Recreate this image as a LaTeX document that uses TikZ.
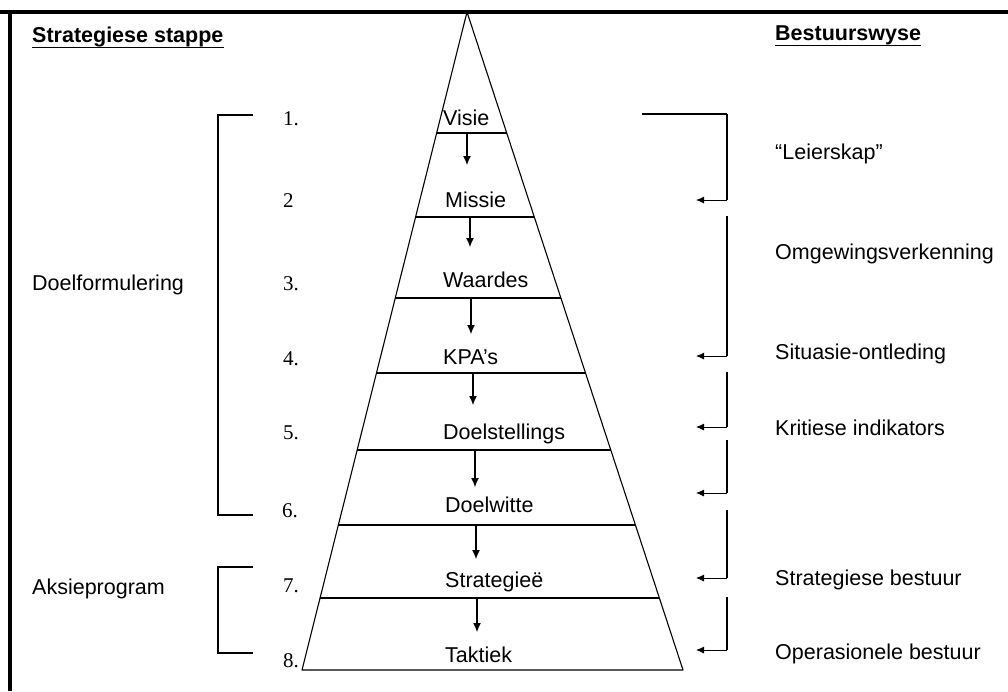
\documentclass[tikz,border=0pt]{standalone}
\usepackage{fontspec}
\setmainfont{Liberation Sans}
\newfontfamily\numfont{Liberation Serif}
\usetikzlibrary{arrows.meta,calc}
\tikzset{
  lbl/.style={anchor=base west, inner sep=0pt, font=\fontsize{21.5}{24}\selectfont},
  hdr/.style={anchor=base west, inner sep=0pt, font=\fontsize{21.5}{24}\selectfont\bfseries},
  num/.style={anchor=base west, inner sep=0pt, font=\fontsize{21}{24}\selectfont\numfont},
  pyr/.style={line width=1.1pt, line join=round},
  level/.style={line width=1.1pt},
  down/.style={line width=1.1pt, -{Latex[length=9pt,width=8pt]}},
  brk/.style={line width=1.8pt},
  back/.style={line width=0.9pt, -{Latex[length=8pt,width=7pt]}},
  frame/.style={line width=3.5pt}
}
\begin{document}
\begin{tikzpicture}[x=1pt,y=-1pt]
\useasboundingbox (0,0) rectangle (1008,691);
% frame
\draw[frame] (0,12) -- (1008,12);
\draw[frame] (10,12) -- (10,691);
% headers
\node[hdr] (h1) at (32,42) {Strategiese stappe};
\node[hdr] (h2) at (775,40) {Bestuurswyse};
\draw[line width=0.8pt] ([yshift=-5pt]h1.base west) -- ([yshift=-5pt]h1.base east);
\draw[line width=0.8pt] ([yshift=-5pt]h2.base west) -- ([yshift=-5pt]h2.base east);
% pyramid
\coordinate (apex) at (467,12);
\coordinate (bl) at (302,670);
\coordinate (br) at (683,670);
\draw[pyr] (bl) -- (apex) -- (br) -- cycle;
\foreach \t/\n in {0.1839/1,0.3116/2,0.4347/3,0.5486/4,0.6657/5,0.7796/6,0.8906/7}{
  \coordinate (L\n) at ($(apex)!\t!(bl)$);
  \coordinate (R\n) at ($(apex)!\t!(br)$);
  \draw[level] (L\n) -- (R\n);
}
% level texts
\node[lbl] (t1) at (443,125) {Visie};
\node[lbl] (t2) at (445,207) {Missie};
\node[lbl] (t3) at (443,287) {Waardes};
\node[lbl] (t4) at (443,364) {KPA's};
\node[lbl] (t5) at (443,439) {Doelstellings};
\node[lbl] (t6) at (445,512) {Doelwitte};
\node[lbl] (t7) at (445,587) {Strategieë};
\node[lbl] (t8) at (445,662) {Taktiek};
% down arrows
\coordinate (a1s) at (467,133); \coordinate (a1e) at (467,165);
\coordinate (a2s) at (470,217); \coordinate (a2e) at (470,247);
\coordinate (a3s) at (471,298); \coordinate (a3e) at (471,334);
\coordinate (a4s) at (473,373); \coordinate (a4e) at (473,405);
\coordinate (a5s) at (475,450); \coordinate (a5e) at (475,487);
\coordinate (a6s) at (476,525); \coordinate (a6e) at (476,559);
\coordinate (a7s) at (477,598); \coordinate (a7e) at (477,632);
\foreach \n in {1,...,7}{ \draw[down] (a\n s) -- (a\n e); }
% numbers
\node[num] (n1) at (283,125) {1.};
\node[num] (n2) at (283,207) {2};
\node[num] (n3) at (283,290) {3.};
\node[num] (n4) at (283,365) {4.};
\node[num] (n5) at (283,439) {5.};
\node[num] (n6) at (282,517) {6.};
\node[num] (n7) at (283,592) {7.};
\node[num] (n8) at (283,667) {8.};
% left labels
\node[lbl] (doel) at (32,290) {Doelformulering};
\node[lbl] (aksie) at (32,594) {Aksieprogram};
% left brackets
\coordinate (lb1a) at (253,115); \coordinate (lb1b) at (218,115);
\coordinate (lb1c) at (218,515); \coordinate (lb1d) at (253,515);
\draw[brk] (lb1a) -- (lb1b) -- (lb1c) -- (lb1d);
\coordinate (lb2a) at (253,567); \coordinate (lb2b) at (218,567);
\coordinate (lb2c) at (218,653); \coordinate (lb2d) at (253,653);
\draw[brk] (lb2a) -- (lb2b) -- (lb2c) -- (lb2d);
% right brackets
\coordinate (r0) at (642,114);
\coordinate (r0c) at (727,114);
\foreach \n/\ys/\ye in {1/114/200,2/216/356,3/372/427,4/440/493,5/510/578,6/597/650}{
  \coordinate (rs\n) at (727,\ys);
  \coordinate (re\n) at (727,\ye);
  \coordinate (rt\n) at (696,\ye);
  \draw[brk] (rs\n) -- (re\n);
  \draw[back] (re\n) -- (rt\n);
}
\draw[brk] (r0) -- (r0c);
% right labels
\node[lbl] (b1) at (775,159) {“Leierskap”};
\node[lbl] (b2) at (775,259) {Omgewingsverkenning};
\node[lbl] (b3) at (775,359) {Situasie-ontleding};
\node[lbl] (b4) at (775,435) {Kritiese indikators};
\node[lbl] (b5) at (775,585) {Strategiese bestuur};
\node[lbl] (b6) at (775,659) {Operasionele bestuur};
\end{tikzpicture}
\end{document}
